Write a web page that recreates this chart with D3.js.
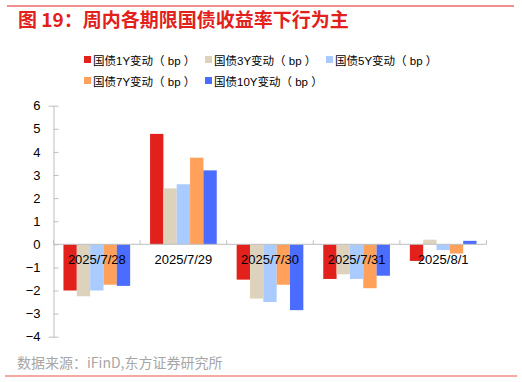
<!DOCTYPE html>
<html>
<head>
<meta charset="utf-8">
<script src="https://cdn.jsdelivr.net/npm/d3@7"></script>
<style>
body{margin:0;background:#fff;font-family:"Liberation Sans","Noto Sans CJK SC",sans-serif;}
</style>
</head>
<body>
<script>
var width = 522, height = 382;

var dates = ["2025/7/28","2025/7/29","2025/7/30","2025/7/31","2025/8/1"];
var seriesNames = ["国债1Y变动（ bp ）","国债3Y变动（ bp ）","国债5Y变动（ bp ）","国债7Y变动（ bp ）","国债10Y变动（ bp ）"];
var y1 = [-2.0, 4.78, -1.53, -1.5, -0.72];
var y3 = [-2.25, 2.42, -2.35, -1.3, 0.2];
var y5 = [-2.0, 2.6, -2.5, -1.5, -0.25];
var y7 = [-1.75, 3.75, -1.75, -1.9, -0.4];
var y10 = [-1.8, 3.2, -2.85, -1.36, 0.15];
var yTicks = [-4,-3,-2,-1,0,1,2,3,4,5,6];
var colors = ["#e2211c","#ddd3bd","#a9cbff","#ffa15a","#4a6cff"];

var allSeries = [y1, y3, y5, y7, y10];

var svg = d3.select("body").append("svg").attr("width", width).attr("height", height);

// top line + title
svg.append("line").attr("x1",7).attr("x2",514).attr("y1",6).attr("y2",6)
  .attr("stroke","#e2211c").attr("stroke-width",1);
svg.append("text").attr("x",18).attr("y",27)
  .attr("fill","#e2211c").attr("font-size",19).attr("font-weight","bold")
  .attr("font-family","'Noto Sans CJK SC',sans-serif")
  .text("图 19：周内各期限国债收益率下行为主");

// legend
var legendPos = [[84,60],[205,60],[326,60],[84,81],[205,81]];
var lg = svg.selectAll(".lg").data(seriesNames).enter().append("g")
  .attr("transform", function(d,i){ return "translate("+legendPos[i][0]+","+legendPos[i][1]+")"; });
lg.append("rect").attr("x",0).attr("y",-4).attr("width",7).attr("height",7)
  .attr("fill", function(d,i){ return colors[i]; });
lg.append("text").attr("x",9).attr("y",4.5).attr("font-size",11.5).attr("fill","#000")
  .attr("font-family","'Liberation Sans','Noto Sans CJK SC',sans-serif")
  .text(function(d){ return d; });

var margin = {left:53.5, right:35.5, top:105.7, bottom:45.3};
var w = width - margin.left - margin.right;
var h = height - margin.top - margin.bottom;

var x0 = d3.scaleBand().domain(dates).range([0,w]).paddingInner(0.23).paddingOuter(0.115);
var x1 = d3.scaleBand().domain(d3.range(5)).range([0, x0.bandwidth()]);
var y = d3.scaleLinear().domain([-4,6]).range([h,0]);

var g = svg.append("g").attr("transform","translate("+margin.left+","+margin.top+")");

// bars
dates.forEach(function(dt, di){
  allSeries.forEach(function(s, si){
    var v = s[di];
    g.append("rect")
      .attr("x", x0(dt) + x1(si))
      .attr("width", x1.bandwidth())
      .attr("y", y(Math.max(0,v)))
      .attr("height", Math.abs(y(v)-y(0)))
      .attr("fill", colors[si]);
  });
});

// y axis
var yAxis = d3.axisLeft(y).tickValues(yTicks).tickSize(5).tickFormat(d3.format("d"));
var ya = g.append("g").call(yAxis);
ya.select(".domain").attr("stroke","#bfbfbf");
ya.selectAll(".tick line").attr("stroke","#bfbfbf");
ya.selectAll(".tick text").attr("font-size",13).attr("fill","#000")
  .attr("font-family","'Liberation Sans',sans-serif").attr("x",-13);
ya.selectAll(".tick line").attr("x2",5);

// x axis at zero
var xScaleEdges = d3.scaleLinear().domain([0,5]).range([0,w]);
var xa = g.append("g").attr("transform","translate(0,"+y(0)+")");
xa.append("line").attr("x1",0).attr("x2",w).attr("stroke","#bfbfbf");
xa.selectAll(".xt").data(d3.range(6)).enter().append("line")
  .attr("x1",function(d){return xScaleEdges(d);}).attr("x2",function(d){return xScaleEdges(d);})
  .attr("y1",0).attr("y2",-4).attr("stroke","#bfbfbf");
xa.selectAll(".xl").data(dates).enter().append("text")
  .attr("x",function(d){ return x0(d)+x0.bandwidth()/2; })
  .attr("y",20).attr("text-anchor","middle").attr("font-size",13).attr("fill","#000")
  .attr("font-family","'Liberation Sans',sans-serif")
  .text(function(d){return d;});

// source + bottom line
svg.append("text").attr("x",17).attr("y",368).attr("font-size",14).attr("fill","#a6a6a6")
  .attr("font-family","'Noto Sans CJK SC',sans-serif")
  .text("数据来源：iFinD,东方证券研究所");
svg.append("line").attr("x1",5).attr("x2",517).attr("y1",376).attr("y2",376)
  .attr("stroke","#f08c84").attr("stroke-width",1.5);
</script>
</body>
</html>
